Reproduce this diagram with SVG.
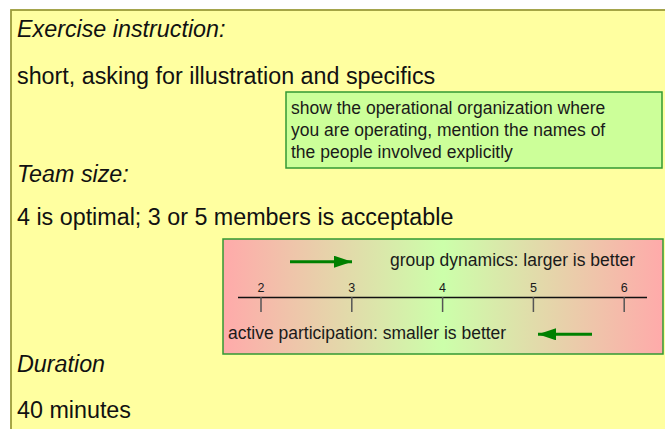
<svg xmlns="http://www.w3.org/2000/svg" width="665" height="429" viewBox="0 0 665 429">
<style>
.main{font-family:"Liberation Sans",Arial,sans-serif;font-size:23.3px;fill:#111}
.it{font-style:italic}
.note{font-family:"Liberation Sans",Arial,sans-serif;font-size:17.5px;fill:#1a1a1a}
.num{font-family:"Liberation Sans",Arial,sans-serif;font-size:12.5px;fill:#1a1a1a;text-anchor:middle}
.tick{stroke:#555;stroke-width:1.5}
.arrow{stroke:#008000;stroke-width:3;fill:none}
</style>
<defs>
<linearGradient id="grad" x1="0" y1="0" x2="1" y2="0">
<stop offset="0" stop-color="#ffaaaa"/>
<stop offset="0.5" stop-color="#ccffaa"/>
<stop offset="1" stop-color="#ffaaaa"/>
</linearGradient>
<marker id="head" viewBox="0 0 18 12" refX="18" refY="6" markerWidth="18" markerHeight="12" markerUnits="userSpaceOnUse" orient="auto">
<path d="M0,0 L18,6 L0,12 Z" fill="#008000"/>
</marker>
</defs>
<g id="panel">
<rect x="11" y="10" width="660" height="430" fill="#ffffa0" stroke="#9c9c3a" stroke-width="1.8"/>
<text class="main it" x="17" y="37">Exercise instruction:</text>
<text class="main" x="17" y="84">short, asking for illustration and specifics</text>
<text class="main it" x="17" y="182">Team size:</text>
<text class="main" x="17" y="225">4 is optimal; 3 or 5 members is acceptable</text>
<text class="main it" x="17" y="372">Duration</text>
<text class="main" x="17" y="418">40 minutes</text>
</g>
<g id="note">
<rect x="286" y="92" width="376" height="76" fill="#ccff99" stroke="#339933" stroke-width="1.5"/>
<text class="note" x="291" y="114">show the operational organization where</text>
<text class="note" x="291" y="136">you are operating, mention the names of</text>
<text class="note" x="291" y="158">the people involved explicitly</text>
</g>
<g id="scale">
<rect x="223" y="239" width="440" height="115" fill="url(#grad)" stroke="#339933" stroke-width="1.5"/>
<line x1="238" y1="297.5" x2="647" y2="297.5" stroke="#111" stroke-width="1.5"/>
<line class="tick" x1="261" y1="297" x2="261" y2="312"/>
<line class="tick" x1="351.8" y1="297" x2="351.8" y2="312"/>
<line class="tick" x1="442.6" y1="297" x2="442.6" y2="312"/>
<line class="tick" x1="533.4" y1="297" x2="533.4" y2="312"/>
<line class="tick" x1="624.2" y1="297" x2="624.2" y2="312"/>
<text class="num" x="261" y="292">2</text>
<text class="num" x="351.8" y="292">3</text>
<text class="num" x="442.6" y="292">4</text>
<text class="num" x="533.4" y="292">5</text>
<text class="num" x="624.2" y="292">6</text>
<text class="note" x="390" y="266">group dynamics: larger is better</text>
<text class="note" x="228" y="339">active participation: smaller is better</text>
</g>
<g id="connectors">
<line class="arrow" x1="290" y1="261.7" x2="352" y2="261.7" marker-end="url(#head)"/>
<line class="arrow" x1="592" y1="334.3" x2="538" y2="334.3" marker-end="url(#head)"/>
</g>
</svg>
